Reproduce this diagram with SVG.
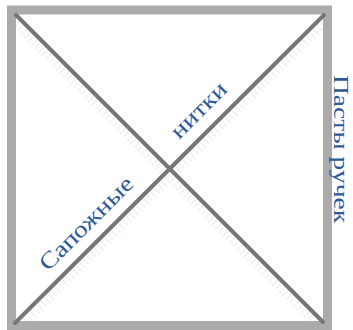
<svg xmlns="http://www.w3.org/2000/svg" width="353" height="330" viewBox="0 0 353 330">
  <defs>
    <style>
      .frame { fill: none; stroke: #ababab; stroke-width: 9; }
      .diag { stroke: #767676; stroke-width: 4; stroke-linecap: round; }
      .shadow { stroke: #f3f3f3; stroke-width: 8; stroke-dasharray: 2 3; }
      .lbl { font-family: "Liberation Serif", "Times New Roman", serif; font-size: 23px; fill: #2f5a97; }
    </style>
  </defs>
  <rect width="353" height="330" fill="#ffffff"/>
  <g id="shadows">
    <line class="shadow" x1="16" y1="24" x2="318" y2="326"/>
    <line class="shadow" x1="324" y1="24" x2="22" y2="326"/>
  </g>
  <g id="frame">
    <rect class="frame" x="11.5" y="10" width="316" height="315.5"/>
  </g>
  <g id="connectors">
    <line class="diag" x1="16" y1="15" x2="323" y2="322"/>
    <line class="diag" x1="324" y1="15" x2="15" y2="323"/>
  </g>
  <g id="label-sapozhnye">
    <text class="lbl" transform="translate(48,272) rotate(-45) scale(1.2,1)">Сапожные</text>
  </g>
  <g id="label-nitki">
    <text class="lbl" transform="translate(179,140) rotate(-45) scale(1.2,1)">нитки</text>
  </g>
  <g id="label-pasty">
    <text class="lbl" style="font-size:22px" transform="translate(333.5,75) rotate(90) scale(1.25,1)">Пасты ручек</text>
  </g>
</svg>
